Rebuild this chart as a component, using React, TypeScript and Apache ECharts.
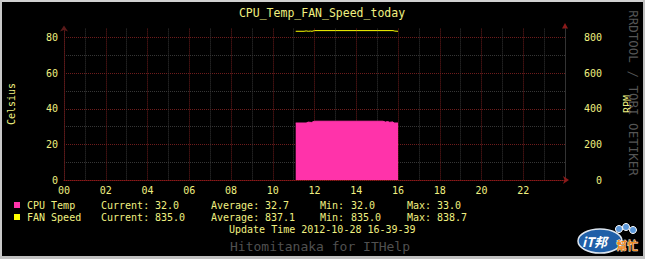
import React, { useEffect, useRef } from 'react';
import * as echarts from 'echarts';

const title = 'CPU_Temp_FAN_Speed_today';
const hourTicks = ['00', '02', '04', '06', '08', '10', '12', '14', '16', '18', '20', '22'];

const cpuHours = [11.1, 11.6, 11.7, 11.85, 12.0, 13.0, 14.0, 15.0, 15.28, 15.4, 15.5, 15.6, 15.76, 15.8, 16.0];
const cpuTemp = [32.0, 32.0, 32.5, 32.3, 33.0, 33.0, 33.0, 33.0, 33.0, 32.5, 32.8, 32.4, 32.6, 32.0, 32.0];

const fanHours = [11.1, 11.5, 11.6, 11.7, 11.8, 11.88, 12.0, 13.0, 14.0, 15.0, 15.76, 15.85, 16.0];
const fanSpeed = [835, 835, 837, 835, 836, 835, 838.7, 838.7, 838.7, 838.7, 838.7, 836, 835];

const seriesNames = ['CPU Temp', 'FAN Speed'];
const seriesColors = ['#ff33aa', '#ffff00'];
const statCurrent = ['32.0', '835.0'];
const statAverage = ['32.7', '837.1'];
const statMin = ['32.0', '835.0'];
const statMax = ['33.0', '838.7'];
const updateText = 'Update Time 2012-10-28 16-39-39';
const creditText = 'Hitomitanaka for ITHelp';
const sideText = 'RRDTOOL / TOBI OETIKER';

const TXT = '#f0f080';
const MONO = '"DejaVu Sans Mono", monospace';
const RED = '#6e1c1c';
const GREY = '#363636';

export default function App() {
  const ref = useRef<HTMLDivElement>(null);
  useEffect(() => {
    if (!ref.current) return;
    const chart = echarts.init(ref.current, undefined, { renderer: 'svg' });

    const t = (text: string, x: number, y: number, extra: any = {}) => ({
      type: 'text',
      x,
      y,
      silent: true,
      ...extra,
      style: {
        text,
        x: 0,
        y: 0,
        fill: TXT,
        font: `10px ${MONO}`,
        align: 'left',
        verticalAlign: 'middle',
        ...(extra.style || {}),
      },
    });

    const legendEls: any[] = [];
    const rowsY = [205, 217];
    seriesNames.forEach((name, i) => {
      const y = rowsY[i];
      legendEls.push({
        type: 'rect',
        shape: { x: 14, y: y - 3, width: 6, height: 6 },
        style: { fill: seriesColors[i] },
      });
      legendEls.push(t(name, 27, y));
      legendEls.push(t('Current:', 101, y));
      legendEls.push(t(statCurrent[i], 155, y));
      legendEls.push(t('Average:', 211, y));
      legendEls.push(t(statAverage[i], 265, y));
      legendEls.push(t('Min:', 320, y));
      legendEls.push(t(statMin[i], 351, y));
      legendEls.push(t('Max:', 407, y));
      legendEls.push(t(statMax[i], 437, y));
    });

    const option: any = {
      animation: false,
      backgroundColor: '#000000',
      grid: { left: 64, right: 80, top: 28.6, bottom: 79 },
      xAxis: {
        type: 'value',
        min: 0,
        max: 24,
        interval: 1,
        axisLine: {
          show: true,
          lineStyle: { color: '#8b1a1a', type: 'dotted' },
          symbol: ['none', 'arrow'],
          symbolSize: [6, 6],
          symbolOffset: [0, 4],
        },
        axisTick: { show: false },
        axisLabel: {
          color: TXT,
          fontFamily: MONO,
          fontSize: 10,
          margin: 5,
          showMaxLabel: false,
          formatter: (v: number) => (v % 2 === 0 && v < 24 ? hourTicks[v / 2] : ''),
        },
        splitLine: {
          show: true,
          showMaxLine: false,
          lineStyle: { color: [RED, GREY], type: 'dotted', width: 1 },
        },
      },
      yAxis: [
        {
          type: 'value',
          min: 0,
          max: 85,
          interval: 10,
          axisLine: {
            show: true,
            lineStyle: { color: '#5a1a1a', type: 'dotted' },
            symbol: ['none', 'arrow'],
            symbolSize: [6, 6],
            symbolOffset: [0, 3],
          },
          axisTick: { show: false },
          axisLabel: {
            color: TXT,
            fontFamily: MONO,
            fontSize: 10,
            margin: 6,
            showMaxLabel: false,
            formatter: (v: number) => (v % 20 === 0 ? String(v) : ''),
          },
          splitLine: {
            show: true,
            showMaxLine: false,
            lineStyle: { color: [RED, GREY], type: 'dotted', width: 1 },
          },
        },
        {
          type: 'value',
          position: 'right',
          min: 0,
          max: 850,
          interval: 100,
          axisLine: {
            show: true,
            lineStyle: { color: '#333333', type: 'solid' },
          },
          axisTick: { show: false },
          axisLabel: {
            color: TXT,
            fontFamily: MONO,
            fontSize: 10,
            margin: 37,
            align: 'right',
            showMaxLabel: false,
            formatter: (v: number) => (v % 200 === 0 ? String(v) : ''),
          },
          splitLine: { show: false },
        },
      ],
      series: [
        {
          name: seriesNames[0],
          type: 'line',
          yAxisIndex: 0,
          data: cpuHours.map((h, i) => [h, cpuTemp[i]]),
          symbol: 'none',
          lineStyle: { color: seriesColors[0], width: 1 },
          itemStyle: { color: seriesColors[0] },
          areaStyle: { color: seriesColors[0], opacity: 1 },
          z: 3,
        },
        {
          name: seriesNames[1],
          type: 'line',
          yAxisIndex: 1,
          data: fanHours.map((h, i) => [h, fanSpeed[i]]),
          symbol: 'none',
          lineStyle: { color: seriesColors[1], width: 1 },
          itemStyle: { color: seriesColors[1] },
          z: 4,
        },
      ],
      graphic: [
        { type: 'rect', shape: { x: 0, y: 0, width: 645, height: 2 }, style: { fill: '#d0d0d0' } },
        { type: 'rect', shape: { x: 0, y: 0, width: 2, height: 259 }, style: { fill: '#c8c8c8' } },
        { type: 'rect', shape: { x: 643, y: 0, width: 2, height: 259 }, style: { fill: '#c0c0c0' } },
        { type: 'rect', shape: { x: 0, y: 256, width: 645, height: 3 }, style: { fill: '#c0c0c0' } },
        t(title, 322, 13, { style: { font: `11.5px ${MONO}`, align: 'center' } }),
        t('Celsius', 11, 104, { rotation: Math.PI / 2, style: { align: 'center' } }),
        t('RPM', 627, 104, { rotation: Math.PI / 2, style: { align: 'center' } }),
        t(sideText, 633, 93, {
          rotation: -Math.PI / 2,
          style: { align: 'center', fill: '#555555', font: `12.5px ${MONO}` },
        }),
        ...legendEls,
        t(updateText, 229, 229),
        t(creditText, 230, 246, { style: { fill: '#505050', font: `13px ${MONO}` } }),
        {
          type: 'polygon',
          shape: { points: [[565, 23], [562, 28.6], [568, 28.6]] },
          style: { fill: '#8b1a1a' },
        },
        // IT logo approximation
        {
          type: 'ellipse',
          shape: { cx: 600, cy: 241, rx: 22, ry: 12 },
          style: { fill: '#1f5fa8', stroke: '#dde6f0', lineWidth: 1.5 },
        },
        t('iT邦', 582, 241, {
          style: { fill: '#ffffff', font: `bold italic 13px "Noto Sans CJK TC", sans-serif` },
        }),
        t('幫忙', 616, 245, {
          style: { fill: '#f08a20', font: `bold 11px "Noto Sans CJK TC", sans-serif`, stroke: '#ffffff', lineWidth: 0.6 },
        }),
        { type: 'circle', shape: { cx: 619, cy: 229, r: 3.5 }, style: { fill: '#5a96d8', stroke: '#ffffff', lineWidth: 1 } },
        { type: 'circle', shape: { cx: 626, cy: 227, r: 3.5 }, style: { fill: '#5a96d8', stroke: '#ffffff', lineWidth: 1 } },
        { type: 'circle', shape: { cx: 633, cy: 230, r: 3.5 }, style: { fill: '#5a96d8', stroke: '#ffffff', lineWidth: 1 } },
      ],
    };
    chart.setOption(option);
    return () => chart.dispose();
  }, []);
  return <div ref={ref} style={{ position: 'fixed', left: 0, top: 0, width: 645, height: 259 }} />;
}
